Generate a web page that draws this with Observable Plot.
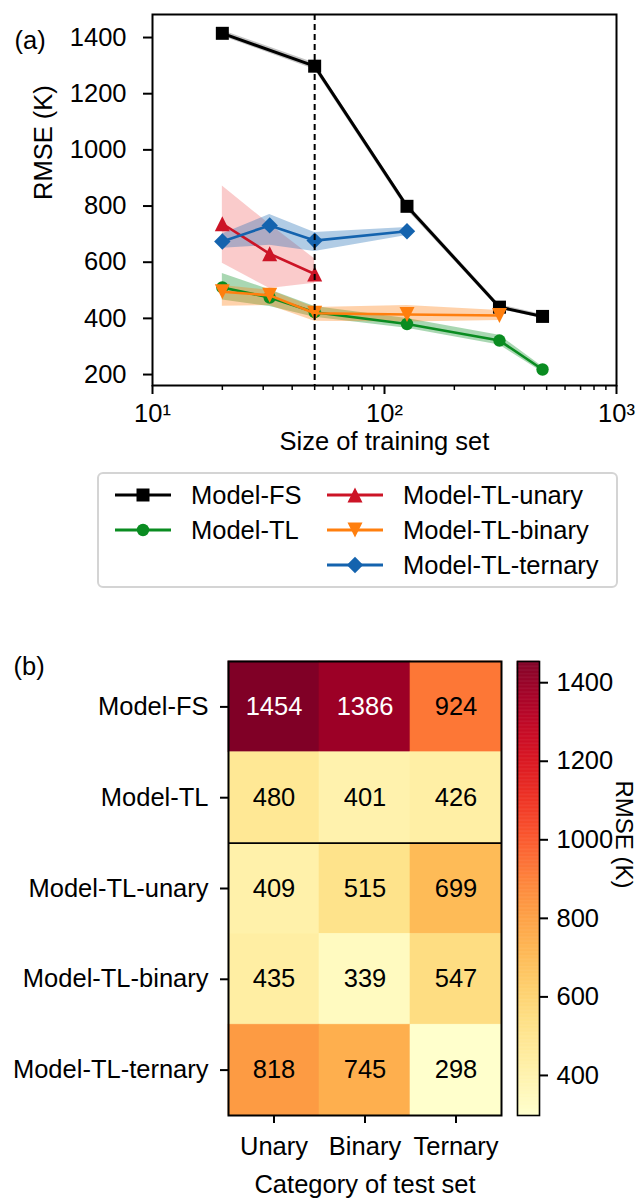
<!DOCTYPE html>
<html><head><meta charset="utf-8">
<script src="https://cdn.jsdelivr.net/npm/d3@7"></script>
<script src="https://cdn.jsdelivr.net/npm/@observablehq/plot@0.6"></script>
<style>
body{margin:0;background:#fff;font-family:"Liberation Sans",Arial,sans-serif;}
#wrap{position:relative;width:637px;height:1201px;overflow:hidden;background:#fff;}
.abs{position:absolute;left:0;}
#legend{position:absolute;left:97px;top:472px;width:517px;height:112px;border:2px solid #d4d4d4;border-radius:6px;box-sizing:content-box;}
.li{position:absolute;display:flex;align-items:center;font-size:25.5px;line-height:26px;color:#000;white-space:nowrap;}
.li svg{margin-right:20px;}
</style></head><body><div id="wrap"></div>
<script>
// ---------- Panel (a) data ----------
const seriesNames = ["Model-FS","Model-TL","Model-TL-unary","Model-TL-binary","Model-TL-ternary"];
const seriesColors = ["#000000","#0a8c21","#cc1426","#ff7f0e","#1463ae"];
const bandColors  = ["#555555","#0a8c21","#f06a6a","#ff7f0e","#1f6cb4"];

const fsX  = [20, 50, 125, 313, 480];
const fsY  = [1415, 1298, 799, 440, 407];
const fsLo = [1405, 1286, 787, 432, 400];
const fsHi = [1425, 1309, 810, 449, 414];

const tlX  = [20, 32, 50, 125, 313, 480];
const tlY  = [510, 474, 422, 380, 321, 218];
const tlLo = [465, 442, 404, 365, 305, 208];
const tlHi = [560, 502, 442, 400, 340, 228];

const unX  = [20, 32, 50];
const unY  = [737, 630, 558];
const unLo = [596, 506, 525];
const unHi = [871, 735, 612];

const biX  = [20, 32, 50, 125, 313];
const biY  = [495, 482, 418, 414, 410];
const biLo = [443, 446, 390, 387, 392];
const biHi = [517, 500, 439, 446, 428];

const teX  = [20, 32, 50, 125];
const teY  = [674, 731, 677, 710];
const teLo = [650, 660, 638, 695];
const teHi = [700, 770, 706, 724];

const yTicksA = [200, 400, 600, 800, 1000, 1200, 1400];
const xMajorA = [10, 100, 1000];
const xMinorA = [20,30,40,50,60,70,80,90,200,300,400,500,600,700,800,900];
const dashedX = [50];

// ---------- Panel (b) data ----------
const rowNames = ["Model-FS","Model-TL","Model-TL-unary","Model-TL-binary","Model-TL-ternary"];
const colNames = ["Unary","Binary","Ternary"];
const rmseFS      = [1454, 1386, 924];
const rmseTL      = [480, 401, 426];
const rmseUnary   = [409, 515, 699];
const rmseBinary  = [435, 339, 547];
const rmseTernary = [818, 745, 298];
const cbTicks = [400, 600, 800, 1000, 1200, 1400];

// ---------- symbols ----------
function rr(size){ return Math.sqrt(size/Math.PI); }
const symSquare = {draw(c,s){const r=rr(s); c.rect(-r,-r,2*r,2*r);}};
const symCircle = {draw(c,s){const r=rr(s); c.moveTo(r,0); c.arc(0,0,r,0,2*Math.PI);}};
const symTriUp  = {draw(c,s){const r=rr(s); c.moveTo(0,-r); c.lineTo(r,r); c.lineTo(-r,r); c.closePath();}};
const symTriDn  = {draw(c,s){const r=rr(s); c.moveTo(0,r); c.lineTo(r,-r); c.lineTo(-r,-r); c.closePath();}};
const symDiam   = {draw(c,s){const r=rr(s); c.moveTo(0,-r); c.lineTo(r,0); c.lineTo(0,r); c.lineTo(-r,0); c.closePath();}};
const seriesSyms = [symSquare, symCircle, symTriUp, symTriDn, symDiam];
const seriesR    = [6.5, 6.2, 7.5, 7.5, 8.2];

const raw = [[fsX,fsY,fsLo,fsHi],[tlX,tlY,tlLo,tlHi],[unX,unY,unLo,unHi],[biX,biY,biLo,biHi],[teX,teY,teLo,teHi]];
const seriesData = raw.map(([xs,ys,lo,hi],k)=> xs.map((x,i)=>({s:seriesNames[k], x, y:ys[i], lo:lo[i], hi:hi[i]})));

const FONT = '"Liberation Sans", Arial, sans-serif';
const FS = 25.5;
const sup = "⁰¹²³⁴⁵⁶⁷⁸⁹";
const wrap = document.getElementById("wrap");

// ---------- Panel (a) ----------
const H1 = 470;
const marksA = [];
seriesData.forEach((d,k)=> marksA.push(Plot.areaY(d,{x:"x", y1:"lo", y2:"hi", fill:bandColors[k], fillOpacity:0.35, curve:"linear"})));
seriesData.forEach((d,k)=> {
  marksA.push(Plot.line(d,{x:"x", y:"y", stroke:seriesColors[k], strokeWidth:k===0?3:2.6}));
  marksA.push(Plot.dot(d,{x:"x", y:"y", symbol:()=>seriesSyms[k], r:seriesR[k], fill:seriesColors[k], stroke:"none"}));
});
marksA.push(Plot.ruleX(dashedX,{stroke:"#000", strokeWidth:2, strokeDasharray:"6,4"}));
marksA.push(Plot.frame({stroke:"#000", strokeWidth:2}));
marksA.push(Plot.axisY(yTicksA,{tickSize:9, tickPadding:17, strokeWidth:2, label:null, fontSize:FS, tickFormat:d=>String(d)}));
marksA.push(Plot.axisX(xMajorA,{tickSize:9, tickPadding:9, strokeWidth:2, label:null, fontSize:FS, tickFormat:d=>"10"+sup[Math.round(Math.log10(d))]}));
marksA.push(Plot.axisX(xMinorA,{tickSize:5, strokeWidth:1.5, label:null, tickFormat:()=>""}));
marksA.push(Plot.text(["RMSE (K)"],{frameAnchor:"left", rotate:-90, dx:-109, fontSize:FS}));
marksA.push(Plot.text(["Size of training set"],{frameAnchor:"bottom", dy:64, fontSize:FS}));
marksA.push(Plot.text(["(a)"],{frameAnchor:"top-left", dx:-138, dy:16, textAnchor:"start", fontSize:FS}));

const pA = Plot.plot({
  width:637, height:H1, marginLeft:152, marginRight:21, marginTop:14, marginBottom:H1-385,
  x:{type:"log", domain:[10,1000]},
  y:{domain:[161,1482]},
  style:{fontFamily:FONT, fontSize:FS+"px", color:"#000", background:"transparent", overflow:"visible"},
  marks:marksA
});
pA.classList.add("abs"); pA.style.top="0px";
wrap.appendChild(pA);

// ---------- Legend ----------
const leg = document.createElement("div"); leg.id="legend"; wrap.appendChild(leg);
const legPos = [[16,21],[16,56],[228,21],[228,56],[228,91]];
seriesNames.forEach((n,k)=>{
  const it = document.createElement("div"); it.className="li";
  it.style.left = legPos[k][0]+"px"; it.style.top = (legPos[k][1]-13)+"px";
  const sv = d3.create("svg").attr("width",56).attr("height",26);
  sv.append("line").attr("x1",0).attr("x2",56).attr("y1",13).attr("y2",13).attr("stroke",seriesColors[k]).attr("stroke-width",3);
  sv.append("path").attr("transform","translate(28,13)").attr("fill",seriesColors[k])
    .attr("d", d3.symbol().type(seriesSyms[k]).size(Math.PI*seriesR[k]*seriesR[k])());
  it.appendChild(sv.node());
  const sp = document.createElement("span"); sp.textContent = n; it.appendChild(sp);
  leg.appendChild(it);
});

// ---------- Panel (b) heatmap ----------
const rowsVals = [rmseFS, rmseTL, rmseUnary, rmseBinary, rmseTernary];
const cells = [];
rowsVals.forEach((vals,ri)=> vals.forEach((v,ci)=> cells.push({ri, ci, v, row:rowNames[ri], col:colNames[ci]})));
const vmin = d3.min(cells,d=>d.v), vmax = d3.max(cells,d=>d.v);
const H2 = 571, TOP2 = 630;
const colorOpt = {type:"linear", scheme:"ylorrd", domain:[vmin, vmax]};

const pB = Plot.plot({
  width:637, height:H2, marginLeft:228, marginRight:136, marginTop:31, marginBottom:86,
  x:{domain:[0, colNames.length]},
  y:{domain:[rowNames.length, 0]},
  color:colorOpt,
  style:{fontFamily:FONT, fontSize:FS+"px", color:"#000", background:"transparent", overflow:"visible"},
  marks:[
    Plot.rect(cells,{x1:"ci", x2:d=>d.ci+1, y1:"ri", y2:d=>d.ri+1, fill:"v", stroke:"v", strokeWidth:0.6}),
    Plot.text(cells.filter(d=>d.v>1000),{x:d=>d.ci+0.5, y:d=>d.ri+0.5, text:d=>String(d.v), fill:"white", fontSize:FS}),
    Plot.text(cells.filter(d=>d.v<=1000),{x:d=>d.ci+0.5, y:d=>d.ri+0.5, text:d=>String(d.v), fill:"black", fontSize:FS}),
    Plot.ruleY([2],{stroke:"#000", strokeWidth:1.6}),
    Plot.frame({stroke:"#000", strokeWidth:2}),
    Plot.axisY(rowNames.map((_,i)=>i+0.5),{tickSize:8, tickPadding:12, strokeWidth:2, label:null, fontSize:FS, tickFormat:d=>rowNames[Math.floor(d)]}),
    Plot.axisX(colNames.map((_,i)=>i+0.5),{tickSize:8, tickPadding:13, strokeWidth:2, label:null, fontSize:FS, tickFormat:d=>colNames[Math.floor(d)]}),
    Plot.text(["Category of test set"],{frameAnchor:"bottom", dy:77, fontSize:FS}),
    Plot.text(["(b)"],{frameAnchor:"top-left", dx:-215, dy:-5, textAnchor:"start", fontSize:FS})
  ]
});
pB.classList.add("abs"); pB.style.top=TOP2+"px";
wrap.appendChild(pB);

// ---------- colorbar ----------
const cbSteps = d3.range(vmin, vmax, 2);
const pC = Plot.plot({
  width:637, height:H2, marginLeft:517, marginRight:98, marginTop:31, marginBottom:86,
  x:{domain:[0,1], axis:null},
  y:{domain:[vmin, vmax]},
  color:colorOpt,
  style:{fontFamily:FONT, fontSize:FS+"px", color:"#000", background:"transparent", overflow:"visible"},
  marks:[
    Plot.rect(cbSteps,{x1:0, x2:1, y1:d=>d, y2:d=>Math.min(d+2, vmax), fill:d=>d, stroke:d=>d, strokeWidth:0.5}),
    Plot.frame({stroke:"#000", strokeWidth:1.6}),
    Plot.axisY(cbTicks,{anchor:"right", tickSize:8, tickPadding:9, strokeWidth:2, label:null, fontSize:FS, tickFormat:d=>String(d)}),
    Plot.text(["RMSE (K)"],{frameAnchor:"right", rotate:90, dx:84, fontSize:24})
  ]
});
pC.classList.add("abs"); pC.style.top=TOP2+"px";
wrap.appendChild(pC);
</script></body></html>
